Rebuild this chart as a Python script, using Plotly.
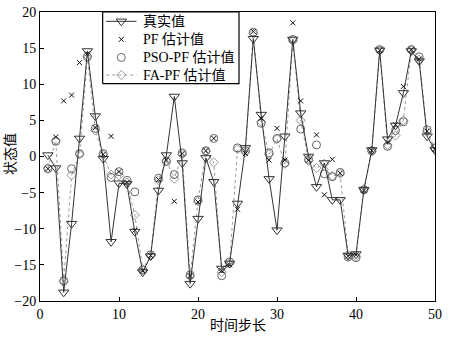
import plotly.graph_objects as go

steps = list(range(1, 51))
true_vals = [0.2,-1.6,-18.8,-9.3,2.5,14.6,5.6,-0.3,-11.8,-3.7,
             -3.8,-10.4,-16.0,-13.8,-4.7,0.2,8.3,-0.9,-17.6,-8.6,
             -0.2,-3.5,-15.5,-14.8,-6.5,1.2,16.3,5.8,-3.1,-10.2,
             2.8,16.2,6.0,0.0,-4.2,-0.9,-6.0,-6.0,-13.7,-13.5,
             -4.6,0.9,14.7,2.4,4.3,8.8,14.6,13.2,2.8,0.9]
pf_vals = [-1.7,2.7,7.7,8.5,13.0,14.2,4.0,0.3,2.8,-2.1,
           -3.6,-10.2,-15.8,-13.7,-3.2,-0.5,-6.2,0.4,-16.5,-6.3,
           0.8,2.5,-15.8,-15.0,-7.3,0.4,17.3,5.3,-0.5,3.9,
           -0.5,18.5,7.7,-0.5,3.0,-5.3,-0.4,-2.3,-13.8,-13.6,
           -4.7,0.8,14.7,2.0,4.4,9.7,14.8,13.5,3.5,1.0]
pso_vals = [-1.7,2.1,-17.2,-1.7,0.4,13.8,3.9,0.4,-2.9,-2.1,
            -3.3,-4.9,-15.7,-13.6,-3.0,-0.7,-2.5,0.5,-16.4,-6.0,
            0.8,2.5,-16.5,-14.6,1.2,0.8,17.2,4.6,0.5,2.5,
            -0.9,16.2,3.8,-0.4,1.6,-2.4,-2.8,-2.2,-13.9,-14.0,
            -4.6,0.8,14.8,1.4,3.6,4.8,14.8,13.8,3.7,1.2]
fa_vals = [-1.6,2.2,-17.3,-2.6,0.3,13.9,3.6,0.2,-2.5,-2.6,
           -3.6,-8.1,-15.6,-13.7,-3.3,-0.6,-3.1,0.3,-16.6,-6.2,
           0.7,-0.8,-16.0,-14.8,1.0,0.6,17.0,4.8,0.3,2.4,
           -1.0,16.0,5.0,-0.6,-1.6,-1.0,-2.7,-2.4,-13.6,-13.8,
           -4.5,0.7,14.7,1.6,2.9,5.0,14.7,13.4,3.4,1.1]

series_names = ["真实值", "PF 估计值", "PSO-PF 估计值", "FA-PF 估计值"]
x_ticks = [0, 10, 20, 30, 40, 50]
y_ticks = [-20, -15, -10, -5, 0, 5, 10, 15, 20]

FONT = "Liberation Serif, Times New Roman, Noto Sans CJK SC, serif"

# styles
STY_TRUE = dict(line=dict(color="#333333", width=1),
                marker=dict(symbol="triangle-down-open", size=9, color="#333333", line=dict(width=1)))
STY_PF = dict(marker=dict(symbol="x-thin-open", size=5, color="#111111", line=dict(width=1, color="#111111")))
STY_PSO = dict(marker=dict(symbol="circle-open", size=8, color="#666666", line=dict(width=1)))
STY_FA = dict(line=dict(color="#9a9a9a", width=1, dash="dot"),
              marker=dict(symbol="diamond-open", size=7, color="#9a9a9a", line=dict(width=1)))

fig = go.Figure()
fig.add_trace(go.Scatter(x=steps, y=fa_vals, name=series_names[3], mode="lines+markers", **STY_FA))
fig.add_trace(go.Scatter(x=steps, y=pso_vals, name=series_names[2], mode="markers", **STY_PSO))
fig.add_trace(go.Scatter(x=steps, y=true_vals, name=series_names[0], mode="lines+markers", **STY_TRUE))
fig.add_trace(go.Scatter(x=steps, y=pf_vals, name=series_names[1], mode="markers", **STY_PF))

# ---- legend drawn on an overlay axis in plot-fraction units ----
LEG_X0, LEG_X1, LEG_Y0, LEG_Y1 = 0.1586, 0.5038, 0.7524, 1.0
LEG_ROWS = [0.9677, 0.9052, 0.8427, 0.7819]
KEY_X0, KEY_X1, KEY_XM, TXT_X = 0.1675, 0.2442, 0.2058, 0.255

fig.add_trace(go.Scatter(
    x=[LEG_X0, LEG_X1, LEG_X1, LEG_X0, LEG_X0], y=[LEG_Y0, LEG_Y0, LEG_Y1, LEG_Y1, LEG_Y0],
    xaxis="x2", yaxis="y2", mode="lines", fill="toself", fillcolor="white",
    line=dict(color="black", width=1.2), hoverinfo="skip", showlegend=False))
key_styles = [("lines+markers", STY_TRUE), ("markers", STY_PF), ("markers", STY_PSO), ("lines+markers", STY_FA)]
for (mode, sty), ry in zip(key_styles, LEG_ROWS):
    if "lines" in mode:
        fig.add_trace(go.Scatter(x=[KEY_X0, KEY_X1], y=[ry, ry], xaxis="x2", yaxis="y2",
                                 mode="lines", line=sty["line"], hoverinfo="skip", showlegend=False))
    fig.add_trace(go.Scatter(x=[KEY_XM], y=[ry], xaxis="x2", yaxis="y2", mode="markers",
                             marker=sty["marker"], hoverinfo="skip", showlegend=False))

annotations = []
for name, ry in zip(series_names, LEG_ROWS):
    annotations.append(dict(xref="paper", yref="paper", x=TXT_X, y=ry, text=name, showarrow=False,
                            xanchor="left", yanchor="middle",
                            font=dict(family=FONT, size=14, color="black")))
annotations.append(dict(xref="paper", yref="paper", x=-0.075, y=0.51, text="状态值", showarrow=False,
                        textangle=-90, xanchor="center", yanchor="middle",
                        font=dict(family=FONT, size=14, color="black")))
annotations.append(dict(xref="paper", yref="paper", x=0.5, y=-0.084, text="时间步长", showarrow=False,
                        xanchor="center", yanchor="middle",
                        font=dict(family=FONT, size=14, color="black")))

axis_common = dict(
    showgrid=False, zeroline=False, showline=True, linecolor="black", linewidth=1,
    mirror=True, ticks="inside", ticklen=4, tickcolor="black", automargin=False,
    tickfont=dict(family=FONT, size=14, color="black"),
)
fig.update_layout(
    xaxis=dict(range=[0, 50], tickvals=x_ticks, **axis_common),
    yaxis=dict(range=[-20, 20], tickvals=y_ticks, **axis_common),
    xaxis2=dict(overlaying="x", range=[0, 1], visible=False, fixedrange=True),
    yaxis2=dict(overlaying="y", range=[0, 1], visible=False, fixedrange=True),
    width=462, height=337,
    margin=dict(l=40, r=27, t=12, b=36),
    paper_bgcolor="white", plot_bgcolor="white",
    font=dict(family=FONT, size=14, color="black"),
    showlegend=False,
    annotations=annotations,
)

fig.write_html("out.html")
